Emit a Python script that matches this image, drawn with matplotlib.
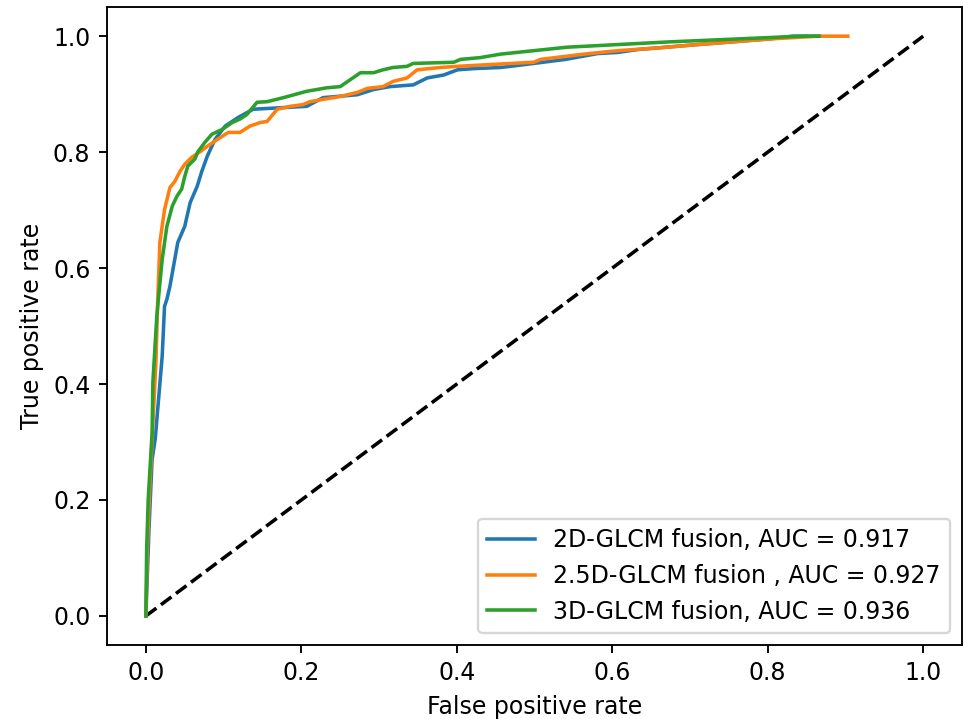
import matplotlib
matplotlib.use("Agg")
import matplotlib.pyplot as plt

# ROC points (fpr, tpr)
fpr_2d = [0.0, 0.004, 0.008, 0.012, 0.021, 0.024, 0.027, 0.031, 0.041, 0.050,
          0.057, 0.066, 0.072, 0.079, 0.089, 0.102, 0.119, 0.138, 0.207, 0.228,
          0.272, 0.293, 0.314, 0.344, 0.362, 0.383, 0.401, 0.421, 0.456, 0.469,
          0.499, 0.540, 0.581, 0.607, 0.633, 0.714, 0.800, 0.832, 0.866]
tpr_2d = [0.0, 0.15, 0.27, 0.305, 0.448, 0.534, 0.546, 0.569, 0.644, 0.672,
          0.713, 0.741, 0.767, 0.793, 0.822, 0.845, 0.860, 0.874, 0.879, 0.894,
          0.899, 0.908, 0.913, 0.916, 0.928, 0.933, 0.942, 0.944, 0.946, 0.948,
          0.953, 0.960, 0.970, 0.972, 0.977, 0.986, 0.995, 1.0, 1.0]

fpr_25d = [0.0, 0.002, 0.005, 0.009, 0.013, 0.015, 0.018, 0.024, 0.031, 0.037,
           0.044, 0.050, 0.059, 0.070, 0.079, 0.092, 0.106, 0.121, 0.134, 0.147,
           0.156, 0.169, 0.186, 0.202, 0.211, 0.228, 0.250, 0.272, 0.285, 0.305,
           0.318, 0.336, 0.349, 0.379, 0.401, 0.456, 0.499, 0.508, 0.563, 0.607,
           0.662, 0.714, 0.800, 0.865, 0.903]
tpr_25d = [0.0, 0.12, 0.22, 0.33, 0.44, 0.534, 0.644, 0.701, 0.739, 0.749,
           0.767, 0.779, 0.791, 0.801, 0.810, 0.822, 0.834, 0.834, 0.845, 0.851,
           0.853, 0.874, 0.879, 0.882, 0.887, 0.891, 0.896, 0.903, 0.910, 0.913,
           0.922, 0.928, 0.942, 0.946, 0.948, 0.952, 0.955, 0.960, 0.969, 0.975,
           0.980, 0.986, 0.995, 1.0, 1.0]

fpr_3d = [0.0, 0.001, 0.003, 0.008, 0.009, 0.014, 0.016, 0.021, 0.027, 0.034,
          0.040, 0.046, 0.050, 0.054, 0.063, 0.067, 0.076, 0.085, 0.098, 0.111,
          0.121, 0.130, 0.143, 0.156, 0.177, 0.207, 0.233, 0.250, 0.263, 0.276,
          0.293, 0.305, 0.318, 0.336, 0.344, 0.396, 0.405, 0.430, 0.456, 0.542,
          0.671, 0.843, 0.866]
tpr_3d = [0.0, 0.115, 0.201, 0.316, 0.403, 0.516, 0.545, 0.615, 0.672, 0.707,
          0.724, 0.736, 0.758, 0.776, 0.788, 0.801, 0.817, 0.831, 0.839, 0.851,
          0.857, 0.865, 0.886, 0.887, 0.894, 0.905, 0.911, 0.913, 0.925, 0.937,
          0.937, 0.942, 0.946, 0.948, 0.953, 0.955, 0.960, 0.963, 0.969, 0.981,
          0.990, 1.0, 1.0]

labels = ["2D-GLCM fusion, AUC = 0.917",
          "2.5D-GLCM fusion , AUC = 0.927",
          "3D-GLCM fusion, AUC = 0.936"]

fig = plt.figure(figsize=(964 / 170, 719 / 170), dpi=170)
ax = fig.add_axes([0.111, 0.103, 0.887, 0.887])

ax.plot([0, 1], [0, 1], "k--")
ax.plot(fpr_2d, tpr_2d, label=labels[0])
ax.plot(fpr_25d, tpr_25d, label=labels[1])
ax.plot(fpr_3d, tpr_3d, label=labels[2])

ax.set_xlim(-0.05, 1.05)
ax.set_ylim(-0.05, 1.05)
ax.set_xlabel("False positive rate")
ax.set_ylabel("True positive rate")
ax.legend(loc="lower right")

fig.savefig("out.png", dpi=170)
